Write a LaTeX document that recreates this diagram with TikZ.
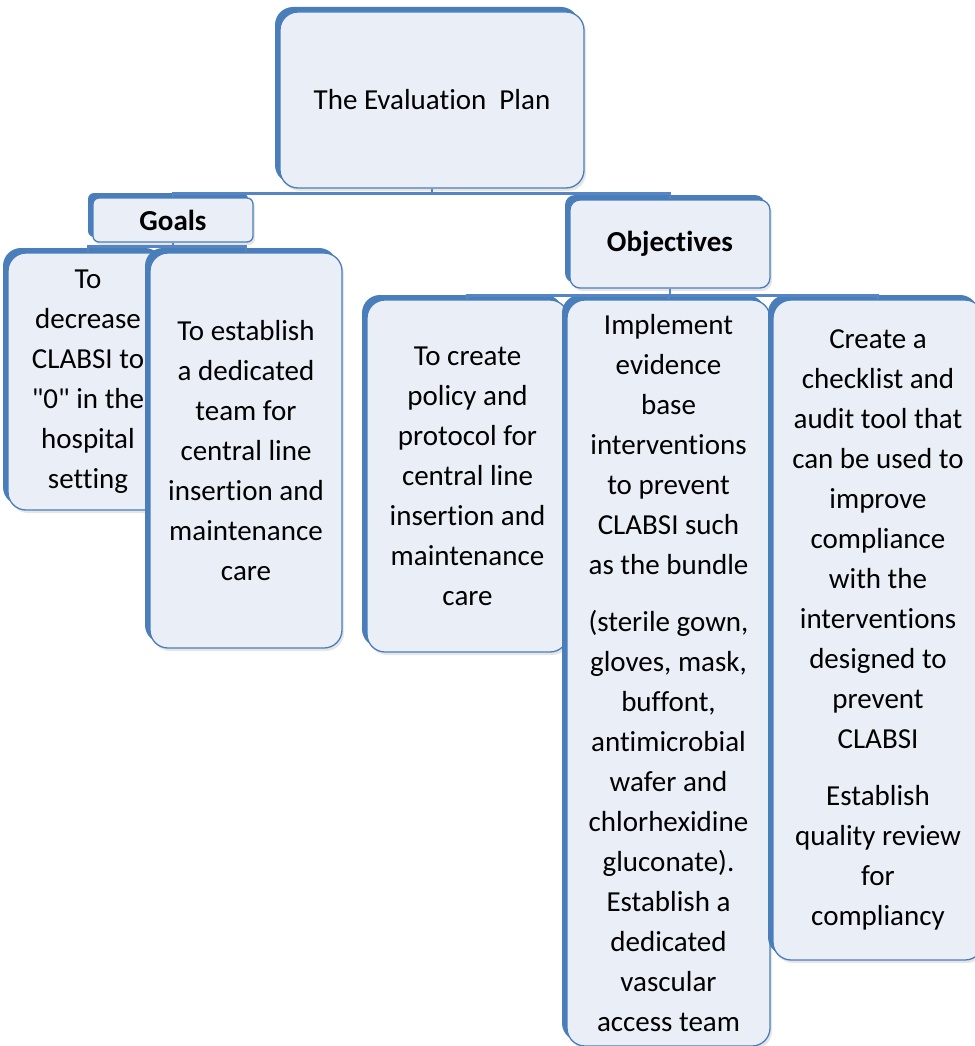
\documentclass[tikz,border=0pt]{standalone}
\usepackage{fontspec}
\setmainfont{Carlito}[Ligatures={NoCommon,NoRare,NoContextual,TeXOff},Contextuals=NoAlternate]
\usepackage{tikz}
\usetikzlibrary{shadows,positioning}
\definecolor{boxblue}{HTML}{4A7EBB}
\definecolor{boxfill}{HTML}{E9EEF7}
\definecolor{lineblue}{HTML}{5585C2}

\begin{document}
\begin{tikzpicture}[x=1pt,y=1pt,
  planbox/.style={draw=boxblue,line width=1.3pt,fill=boxfill,rounded corners=#1,
    drop shadow={opacity=.2,shadow xshift=2pt,shadow yshift=-3pt},
    general shadow={fill=boxblue,shadow xshift=-5pt,shadow yshift=5pt},
    align=center,inner sep=0pt,font=\fontsize{29}{40}\selectfont},
  planbox/.default=18pt,
  link/.style={draw=lineblue,line width=2.4pt}]
\useasboundingbox (0,0) rectangle (974,-1046);

% Top box
\node[planbox,minimum width=304,minimum height=176] (plan) at (432,-100)
  {The Evaluation\ \ Plan};

% Second level
\node[planbox=6pt,minimum width=160,minimum height=44,font=\fontsize{29}{40}\selectfont\bfseries]
  (goals) at (173,-220) {Goals};
\node[planbox=10pt,minimum width=200,minimum height=88,font=\fontsize{29}{40}\selectfont\bfseries]
  (objs) at (670,-244) {Objectives};

% Connectors
\draw[link] (plan.south) -- ++(0,-5) -| (goals.north);
\draw[link] (plan.south) -- ++(0,-5) -| (objs.north);

% Goals
\node[planbox,minimum width=160,minimum height=257] (goalA) at (88,-381.5)
  {To\\decrease\\CLABSI to\\"0" in the\\hospital\\setting};
\node[planbox,minimum width=192,minimum height=395] (goalB) at (246,-450.5)
  {To establish\\a dedicated\\team for\\central line\\insertion and\\maintenance\\care};
\draw[link] (goals.south) -- ++(0,-4) -| (goalA.north);
\draw[link] (goals.south) -- ++(0,-4) -| (goalB.north);

% Objectives
\node[planbox,minimum width=201,minimum height=352] (objA) at (467.5,-476)
  {To create\\policy and\\protocol for\\central line\\insertion and\\maintenance\\care};
\node[planbox,minimum width=203,minimum height=746] (objB) at (668.5,-673)
  {Implement\\evidence\\base\\interventions\\to prevent\\CLABSI such\\as the bundle\\[17pt]
   (sterile gown,\\gloves, mask,\\buffont,\\antimicrobial\\wafer and\\chlorhexidine\\gluconate).\\
   Establish a\\dedicated\\vascular\\access team};
\node[planbox,minimum width=210,minimum height=660] (objC) at (878,-630)
  {Create a\\checklist and\\audit tool that\\can be used to\\improve\\compliance\\with the\\interventions\\designed to\\prevent\\CLABSI\\[17pt]
   Establish\\quality review\\for\\compliancy};
\foreach \kid in {objA,objB,objC}
  \draw[link] (objs.south) -- ++(0,-7) -| (\kid.north);
\end{tikzpicture}
\end{document}
